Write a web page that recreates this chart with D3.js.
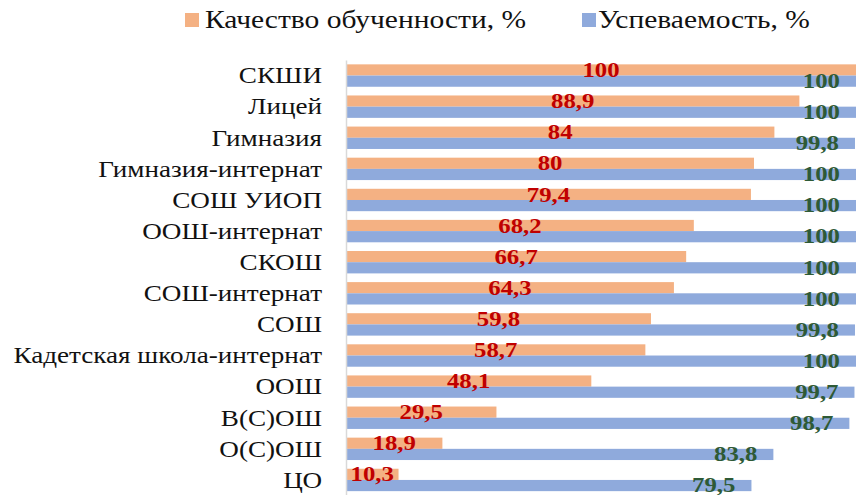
<!DOCTYPE html>
<html>
<head>
<meta charset="utf-8">
<script src="https://cdn.jsdelivr.net/npm/d3@7"></script>
<style>
  body { margin: 0; background: #fff; }
  svg { display: block; }
</style>
</head>
<body>
<svg id="chart" width="856" height="495"></svg>
<script>
// Chart data
var schools = ['СКШИ', 'Лицей', 'Гимназия', 'Гимназия-интернат', 'СОШ УИОП', 'ООШ-интернат', 'СКОШ',
               'СОШ-интернат', 'СОШ', 'Кадетская школа-интернат', 'ООШ', 'В(С)ОШ', 'О(С)ОШ', 'ЦО'];
var quality = [100, 88.9, 84, 80, 79.4, 68.2, 66.7, 64.3, 59.8, 58.7, 48.1, 29.5, 18.9, 10.3];
var progress = [100, 100, 99.8, 100, 100, 100, 100, 100, 99.8, 100, 99.7, 98.7, 83.8, 79.5];
var seriesNames = ['Качество обученности, %', 'Успеваемость, %'];

var colors = ['#f4b183', '#8faadc'];
var labelColors = ['#c00000', '#2e5a36'];
var FONT = 'Liberation Serif';
var sx = 1.18; // the original picture is a little stretched sideways
var numFormat = function(v) { return String(v).replace('.', ','); };

var svg = d3.select('#chart'),
    width = +svg.attr('width'),
    height = +svg.attr('height');

var x = d3.scaleLinear().domain([0, 100]).range([346, 856]);
var y = d3.scaleBand().domain(schools).range([60, 495.5]).paddingInner(0.28).paddingOuter(0.14);
var sub = d3.scaleBand().domain([0, 1]).range([0, y.bandwidth()]);

// Legend
var legend = svg.append('g').attr('class', 'legend');
var legendX = [185, 582],
    legendTextX = [205, 598];
seriesNames.forEach(function(name, i) {
    legend.append('rect')
        .attr('x', legendX[i]).attr('y', 13)
        .attr('width', 14).attr('height', 14)
        .attr('fill', colors[i]);
    legend.append('text')
        .attr('transform', 'translate(' + legendTextX[i] + ',28) scale(' + sx + ',1)')
        .attr('font-family', FONT)
        .attr('font-size', 25)
        .attr('fill', '#111')
        .text(name);
});

// Bars
var rows = svg.selectAll('.row')
    .data(schools)
    .enter().append('g')
    .attr('class', 'row')
    .attr('transform', function(d) { return 'translate(0,' + y(d) + ')'; });

rows.append('rect')
    .attr('x', x(0))
    .attr('y', sub(0))
    .attr('height', sub.bandwidth())
    .attr('width', function(d, i) { return x(quality[i]) - x(0); })
    .attr('fill', colors[0]);

rows.append('rect')
    .attr('x', x(0))
    .attr('y', sub(1))
    .attr('height', sub.bandwidth())
    .attr('width', function(d, i) { return x(progress[i]) - x(0); })
    .attr('fill', colors[1]);

// Axis: category names and the zero line
var axis = svg.append('g')
    .attr('transform', 'translate(' + x(0) + ',0)')
    .call(d3.axisLeft(y).tickSize(0).tickPadding(0));
axis.attr('font-family', FONT);
axis.select('.domain').attr('stroke', '#d9d9d9').attr('stroke-width', 1.5);
axis.selectAll('.tick text')
    .attr('x', -24 / sx)
    .attr('dy', '0.34em')
    .attr('transform', 'scale(' + sx + ',1)')
    .attr('font-family', FONT)
    .attr('font-size', 23)
    .attr('fill', '#111');

// Value labels
rows.append('text')
    .attr('transform', function(d, i) {
        var cx = (x(0) + x(quality[i])) / 2;
        return 'translate(' + cx + ',' + (sub(0) + sub.bandwidth() / 2) + ') scale(' + sx + ',1)';
    })
    .attr('dy', '0.34em')
    .attr('text-anchor', 'middle')
    .attr('font-family', FONT)
    .attr('font-weight', 'bold')
    .attr('font-size', 21)
    .attr('fill', labelColors[0])
    .text(function(d, i) { return numFormat(quality[i]); });

rows.append('text')
    .attr('transform', function(d, i) {
        return 'translate(' + (x(progress[i]) - 16) + ',' + (sub(1) + sub.bandwidth() / 2) + ') scale(' + sx + ',1)';
    })
    .attr('dy', '0.32em')
    .attr('text-anchor', 'end')
    .attr('font-family', FONT)
    .attr('font-weight', 'bold')
    .attr('font-size', 21)
    .attr('fill', labelColors[1])
    .text(function(d, i) { return numFormat(progress[i]); });
</script>
</body>
</html>
